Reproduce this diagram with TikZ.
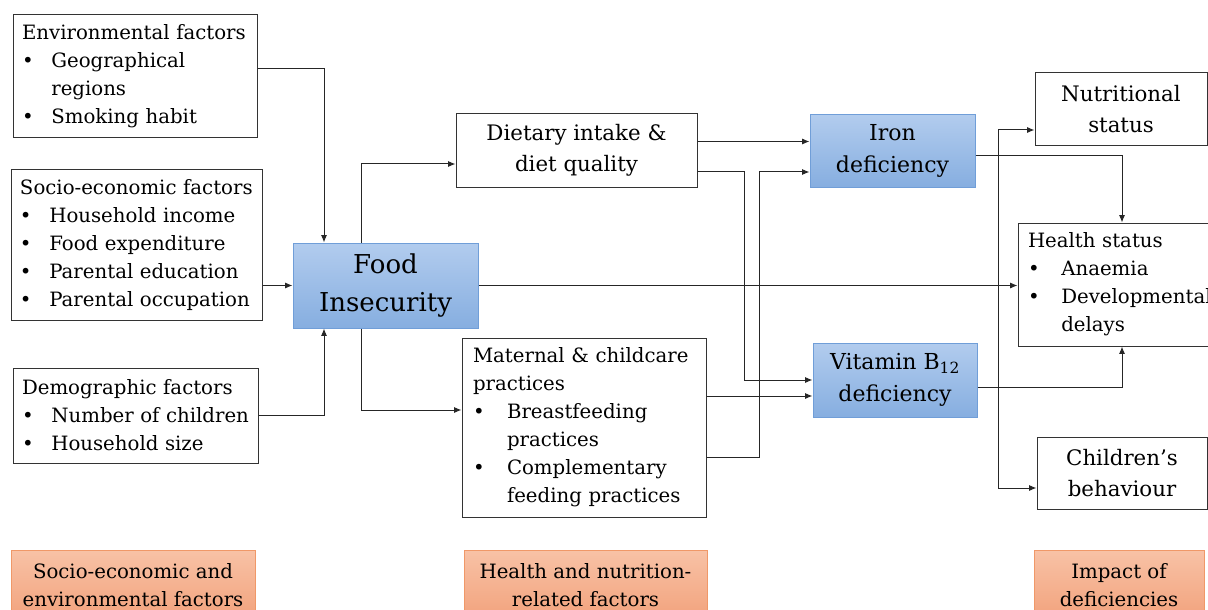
\documentclass[tikz,border=0pt]{standalone}
\usepackage{fontspec}
\setmainfont{DejaVu Serif}
\usetikzlibrary{calc,arrows.meta}

\definecolor{bluetop}{RGB}{178,204,238}
\definecolor{bluebot}{RGB}{134,174,224}
\definecolor{blueedge}{RGB}{112,158,216}
\definecolor{orgtop}{RGB}{248,194,166}
\definecolor{orgbot}{RGB}{242,162,124}
\definecolor{orgedge}{RGB}{240,152,104}

\newcommand{\itm}[1][22pt]{\makebox[#1][l]{\textbullet}}
\newcommand{\ind}[1][22pt]{\hspace*{#1}}

\tikzset{
  box/.style={draw=black!80, line width=0.75pt, fill=white, inner xsep=6.75pt,
    inner ysep=0pt, font=\fontsize{14.8}{21}\selectfont},
  listbox/.style={box, align=left},
  textbox/.style={box, align=center, font=\fontsize{16}{23.5}\selectfont},
  bluebox/.style={draw=blueedge, line width=0.75pt, top color=bluetop, bottom color=bluebot,
    align=center, inner sep=0pt, font=\fontsize{16.5}{23.5}\selectfont},
  orangebox/.style={draw=orgedge, line width=0.75pt, top color=orgtop, bottom color=orgbot,
    align=center, inner sep=0pt, minimum height=52.5pt, font=\fontsize{14.8}{21}\selectfont},
  arr/.style={-{Latex[length=5.5pt,width=4.5pt]}, line width=0.75pt, black!85},
}

\begin{document}
\begin{tikzpicture}[x=0.75pt,y=-0.75pt]
    \useasboundingbox (0,0) rectangle (1208,610);
    \clip (0,0) rectangle (1208,610); % cuts the boxes at the right and bottom
    % left column
    \node[listbox, minimum width=183pt, minimum height=92.25pt, text width=169.5pt] (env) at (135,76.5)
      {Environmental factors\\ \itm Geographical\\ \ind regions\\ \itm Smoking habit};
    \node[listbox, minimum width=188.25pt, minimum height=112.5pt, text width=174.75pt] (soc) at (136.5,245)
      {Socio-economic factors\\ \itm Household income\\ \itm Food expenditure\\
       \itm Parental education\\ \itm Parental occupation};
    \node[listbox, minimum width=183.75pt, minimum height=71.25pt, text width=170.25pt] (dem) at (135.5,415.5)
      {Demographic factors\\ \itm Number of children\\ \itm Household size};
    \node[bluebox, minimum width=138.75pt, minimum height=63.75pt, font=\fontsize{19.5}{28.5}\selectfont] (fi) at (385.5,285.5)
      {Food\\ Insecurity};
    % middle column
    \node[textbox, minimum width=180.75pt, minimum height=54.75pt] (diet) at (576.5,150.5)
      {Dietary intake \&\\ diet quality};
    \node[listbox, inner xsep=8.25pt, minimum width=183pt, minimum height=134.25pt, text width=166.5pt] (mat) at (584,427.5)
      {Maternal \& childcare\\ practices\\ \itm[25.5pt]Breastfeeding\\ \ind[25.5pt]practices\\
       \itm[25.5pt]Complementary\\ \ind[25.5pt]feeding practices};
    \node[bluebox, minimum width=123.75pt, minimum height=54pt] (iron) at (892.5,151)
      {Iron\\ deficiency};
    \node[bluebox, minimum width=123pt, minimum height=55.5pt] (vit) at (895,380)
      {Vitamin B\textsubscript{12}\\ deficiency};
    % right column
    \node[textbox, minimum width=129pt, minimum height=54.75pt] (nut) at (1121,109)
      {Nutritional\\ status};
    \node[listbox, inner xsep=7.5pt, minimum width=156pt, minimum height=92.25pt, text width=141pt] (hea) at (1122,284.5)
      {Health status\\ \itm[25pt]Anaemia\\ \itm[25pt]\mbox{Developmental}\\ \ind[25pt]delays};
    \node[textbox, minimum width=127.5pt, minimum height=54pt] (beh) at (1122,473)
      {Children’s\\ behaviour};
    % captions
    \node[orangebox, minimum width=183pt] (capA) at (133,585)
      {Socio-economic and\\ environmental factors};
    \node[orangebox, minimum width=182.25pt] (capB) at (585.5,585)
      {Health and nutrition-\\ related factors};
    \node[orangebox, minimum width=127.5pt] (capC) at (1119,585)
      {Impact of\\ deficiencies};

    \coordinate (ironA) at ($(iron.west)+(0,-9.5)$);
    \coordinate (ironB) at ($(iron.west)+(0,21)$);
    \coordinate (vitA)  at (vit.west);
    \coordinate (vitB)  at ($(vit.west)+(0,16)$);
    \coordinate (brMid) at (998,300);

    \draw[arr] ($(env.east)+(0,-7.5)$) -| ($(fi.north)+(-61.5,0)$);
    \draw[arr] (soc.east |- fi.west) -- (fi.west);
    \draw[arr] (dem.east) -| ($(fi.south)+(-61.5,0)$);
    \draw[arr] ($(fi.north)+(-24.5,0)$) |- ($(diet.west)+(0,13.5)$);
    \draw[arr] ($(fi.south)+(-24.5,0)$) |- ($(mat.west)+(0,-17.5)$);
    \draw[arr] (fi.east) -- (fi.east -| hea.west);
    \draw[arr] (diet.east |- ironA) -- (ironA);
    \draw[arr] (diet.east |- ironB) -- ++(47,0) |- (vitA);
    \draw[arr] (mat.east |- vitB) -- (vitB);
    \draw[arr] ($(mat.east)+(0,30)$) -- ++(53,0) |- (ironB);
    \draw[arr] ($(iron.east)+(0,5)$) -| (hea.north);
    \draw[arr] ($(vit.east)+(0,7)$) -| (hea.south);
    \draw[arr] (brMid) |- ($(nut.west)+(0,21)$);
    \draw[arr] (brMid) |- ($(beh.west)+(0,15)$);
  \end{tikzpicture}
\end{document}
